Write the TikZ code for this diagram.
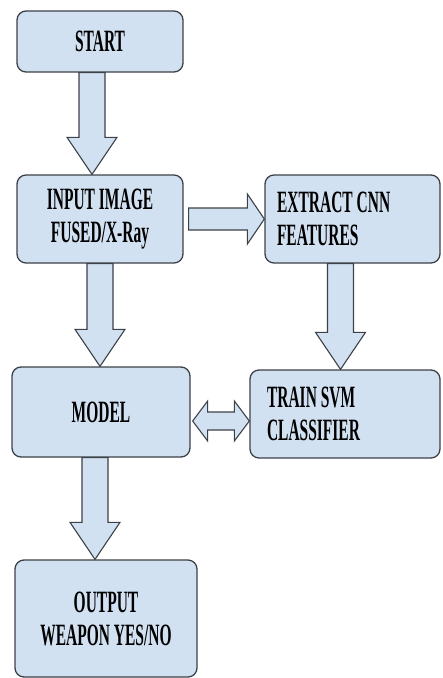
\documentclass[tikz,border=0pt]{standalone}
\usepackage{fontspec}
\newfontfamily\flowfont[FakeStretch=0.5]{Liberation Serif}
\usepackage{tikz}
\usetikzlibrary{calc}

\definecolor{boxfill}{HTML}{D2E1F1}
\definecolor{boxline}{HTML}{3C4148}

% block arrow pointing down: from node, to node, x offset
\newcommand{\vblk}[3]{%
  \draw[blk] let \p1=($(#1.south)+(#3,0)$), \p2=(#2.north) in
    (\x1-13pt,\y1) -- (\x1+13pt,\y1) -- (\x1+13pt,\y2+37pt) -- (\x1+25pt,\y2+37pt)
    -- (\x1,\y2) -- (\x1-25pt,\y2+37pt) -- (\x1-13pt,\y2+37pt) -- cycle;}

\begin{document}
\begin{tikzpicture}[
  x=1pt, y=-1pt,
  box/.style={draw=boxline, fill=boxfill, line width=1.3pt, rounded corners=9pt, inner sep=0pt,
    font=\flowfont\bfseries\fontsize{31}{33}\selectfont, align=center},
  blk/.style={draw=boxline, fill=boxfill, line width=1.1pt, line join=miter}
]
\useasboundingbox (0,0) rectangle (443,678);

% ----- Colonne gauche -----
\node[box, minimum width=166pt, minimum height=61pt] (start) at (100,41.5) {START};
\node[box, minimum width=166pt, minimum height=88pt] (input) at (100,219) {INPUT IMAGE\\FUSED/X-Ray};
\node[box, minimum width=178pt, minimum height=90pt] (model) at (101,412) {MODEL};
\node[box, minimum width=182pt, minimum height=117pt] (output) at (106,618.5) {OUTPUT\\WEAPON YES/NO};

% ----- Colonne droite -----
\node[box, minimum width=175pt, minimum height=88pt, text width=151pt, align=flush left] (extract) at (352.5,219) {EXTRACT CNN\\FEATURES};
\node[box, minimum width=190pt, minimum height=88pt, text width=156pt, align=flush left] (train) at (345,414) {TRAIN SVM\\CLASSIFIER};

% ----- Flèches verticales -----
\vblk{start}{input}{-8}
\vblk{input}{model}{0}
\vblk{extract}{train}{-12}
\vblk{model}{output}{-6}

% ----- Flèche horizontale -----
\draw[blk] let \p1=($(input.east)+(5,0)$), \p2=(extract.west) in
  (\x1,\y1+11pt) -- (\x2-17pt,\y1+11pt) -- (\x2-17pt,\y1+25pt) -- (\x2,\y1)
  -- (\x2-17pt,\y1-25pt) -- (\x2-17pt,\y1-11pt) -- (\x1,\y1-11pt) -- cycle;

% ----- Double flèche model / train -----
\draw[blk] let \p1=($(model.east)+(2,9)$), \p2=(train.west) in
  (\x1,\y1) -- (\x1+15pt,\y1+20pt) -- (\x1+15pt,\y1+9pt) -- (\x2-15pt,\y1+9pt)
  -- (\x2-15pt,\y1+20pt) -- (\x2,\y1) -- (\x2-15pt,\y1-20pt) -- (\x2-15pt,\y1-9pt)
  -- (\x1+15pt,\y1-9pt) -- (\x1+15pt,\y1-20pt) -- cycle;

\end{tikzpicture}
\end{document}
